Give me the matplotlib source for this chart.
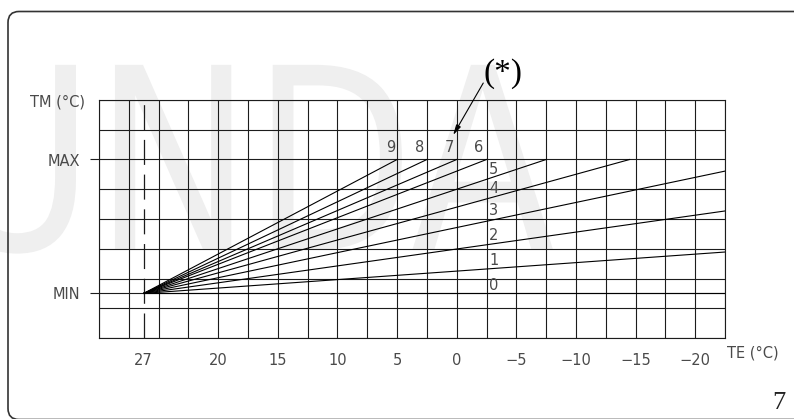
"""
Heating curve chart: flow temperature TM vs outside temperature TE,
curves 0..9 fanning out from the MIN point at 27 °C.
Grid units: x = column index (0..21), y = row index (0..8).
"""
import numpy as np
import matplotlib
matplotlib.use("Agg")
import matplotlib.pyplot as plt
from matplotlib.patches import FancyBboxPatch, PathPatch
from matplotlib.textpath import TextPath
from matplotlib.font_manager import FontProperties
from matplotlib.transforms import IdentityTransform, Affine2D

plt.rcParams["lines.scale_dashes"] = False

# ---- data (grid units) ----
N_COLS = 21
N_ROWS = 8
ROW_LINES = [0, 1, 1.5, 2, 3, 4, 5, 6, 7, 8]

ORIGIN = (1.5, 1.5)                # MIN point at TE = 27
CURVE_IDS = ["0", "1", "2", "3", "4", "5", "6", "7", "8", "9"]
CURVE_END_X = [21, 21, 21, 21, 17.8, 15, 13, 12, 11, 10]
CURVE_END_Y = [1.5, 2.89, 4.27, 5.61, 6, 6, 6, 6, 6, 6]

TE_TICK_POS = [1.5, 4, 6, 8, 10, 12, 14, 16, 18, 20]
TE_LABELS = ["27", "20", "15", "10", "5", "0", "\u22125", "\u221210", "\u221215", "\u221220"]

TM_TICK_POS = [1.5, 6]
TM_LABELS = ["MIN", "MAX"]

# label anchors for the curve numbers
TOP_LABEL_X = [9.79, 10.77, 11.75, 12.75]      # 9, 8, 7, 6
TOP_LABEL_Y = 6.39
SIDE_LABEL_X = 13.09                             # 5..0
SIDE_LABEL_Y = [5.68, 5.01, 4.27, 3.46, 2.62, 1.78]

TXT = "#4a4a4a"
LINE = "#1c1c1c"
FONT = ["DejaVu Sans"]
FS = 10.5

fig = plt.figure(figsize=(7.94, 4.19), dpi=100)

# faint watermark behind everything (pixel coords, y up)
wm = TextPath((0, 0), "UNDA", size=254, prop=FontProperties(family="DejaVu Sans"))
wm = wm.transformed(Affine2D().scale(0.83, 1).translate(-60, 419 - 250))
fig.patches.append(PathPatch(wm, transform=IdentityTransform(), facecolor="#efefef",
                             edgecolor="none", zorder=0))

# page frame
frame = FancyBboxPatch((8, -0.5), 900, 408, boxstyle="round,pad=0,rounding_size=11",
                       transform=IdentityTransform(), fill=False,
                       edgecolor="#333333", lw=1.2, zorder=1)
fig.patches.append(frame)

ax = fig.add_axes([99 / 794, 81 / 419, 626 / 794, 238 / 419])
ax.set_zorder(2)
ax.set_facecolor("none")
ax.set_xlim(0, N_COLS)
ax.set_ylim(0, N_ROWS)

for s in ax.spines.values():
    s.set_color(LINE)
    s.set_linewidth(0.8)

# grid from minor ticks (keep the ones that sit on labelled ticks too)
ax.xaxis.remove_overlapping_locs = False
ax.yaxis.remove_overlapping_locs = False
ax.set_xticks(np.arange(N_COLS + 1), minor=True)
ax.set_yticks(ROW_LINES, minor=True)
ax.grid(which="minor", color=LINE, lw=0.8)
ax.grid(which="major", visible=False)
ax.tick_params(which="minor", length=0)

ax.set_xticks(TE_TICK_POS, TE_LABELS)
ax.set_yticks(TM_TICK_POS, TM_LABELS)
ax.tick_params(axis="x", which="major", length=0, pad=11, labelsize=FS, labelcolor=TXT)
ax.tick_params(axis="y", which="major", length=6.5, width=0.8, color=LINE,
               pad=7, labelsize=FS, labelcolor=TXT)
for lab in ax.get_xticklabels() + ax.get_yticklabels():
    lab.set_family(FONT)

# dashed 27 °C line
ax.axvline(ORIGIN[0], color=LINE, lw=0.9, dashes=(18, 7), zorder=2)

# heating curves
for cid, ex, ey in zip(CURVE_IDS, CURVE_END_X, CURVE_END_Y):
    ax.plot([ORIGIN[0], ex], [ORIGIN[1], ey], color="black", lw=0.8, zorder=3)

for cid, lx in zip(["9", "8", "7", "6"], TOP_LABEL_X):
    ax.text(lx, TOP_LABEL_Y, cid, ha="center", va="center", fontsize=FS,
            color=TXT, family=FONT)
for cid, ly in zip(["5", "4", "3", "2", "1", "0"], SIDE_LABEL_Y):
    ax.text(SIDE_LABEL_X, ly, cid, ha="left", va="center", fontsize=FS,
            color=TXT, family=FONT, zorder=4)

# (*) callout
ax.annotate("", xy=(11.88, 6.82), xytext=(12.89, 8.57), annotation_clip=False,
            arrowprops=dict(arrowstyle="-|>,head_length=0.6,head_width=0.15",
                            color="black", lw=0.8, shrinkA=0, shrinkB=0))
ax.text(13.55, 8.9, "(*)", ha="center", va="center", fontsize=24,
        family=["Liberation Serif", "DejaVu Serif"], color="black", clip_on=False)

# axis titles
ax.text(-0.11, 0.992, "TM (\u00b0C)", transform=ax.transAxes, ha="left", va="center",
        fontsize=FS, color=TXT, family=FONT)
ax.text(1.003, -0.063, "TE (\u00b0C)", transform=ax.transAxes, ha="left", va="center",
        fontsize=FS, color=TXT, family=FONT)

# page number
fig.text(779 / 794, 1 - 403 / 419, "7", ha="center", va="center", fontsize=19,
         family=["Liberation Serif", "DejaVu Serif"], color="#222222")

fig.savefig("out.png", dpi=100)
